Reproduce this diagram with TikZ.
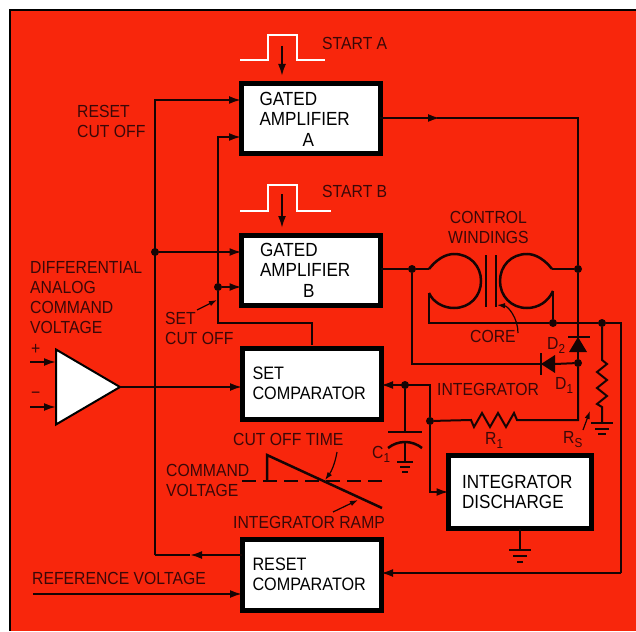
\documentclass[tikz,border=0pt]{standalone}
\usepackage{fontspec}
\setmainfont[FakeStretch=0.9]{Liberation Sans}
\usetikzlibrary{arrows.meta,positioning,calc,shapes.geometric}
\definecolor{panel}{HTML}{F8260C}
\definecolor{ink}{HTML}{3A0808}
\definecolor{wire}{HTML}{160404}
\newcommand{\lowtxt}[1]{\raisebox{-4pt}{\fontsize{13}{13}\selectfont #1}}
\tikzset{box/.style={draw=black,fill=white,line width=5pt,outer sep=0pt,inner sep=0pt,align=left,text=black,font=\fontsize{19}{20.5}\selectfont},
comp/.style={box,minimum width=139pt,minimum height=71pt,text width=118pt,font=\fontsize{18}{20.5}\selectfont},
amp/.style={box,minimum width=139pt,minimum height=70pt,text width=102pt},
lab/.style={anchor=west,inner sep=0pt,align=left,text=ink,font=\fontsize{17.5}{20}\selectfont},
wires/.style={draw=wire,line width=2pt},
arrow/.style={wires,-{Latex[length=12pt,width=8pt]}},
thin arrow/.style={wires,line width=1.2pt,-{Latex[length=8pt,width=5.5pt]}},
dot/.style={circle,fill=wire,inner sep=0pt,minimum size=8pt},
pulse/.style={draw=white,line width=2.5pt},
plate/.style={wires,line width=2.5pt}}
\begin{document}
\begin{tikzpicture}[x=1pt,y=-1pt]
\useasboundingbox (0,0) rectangle (636,631);
\fill[panel] (9,10) rectangle (636,631);
\draw[black,line width=1.5pt] (10,631)--(10,10)--(636,10);
% blocks
\node[amp] (ampa) at (310.5,119) {GATED\\AMPLIFIER\\\hspace*{43pt}A};
\node[amp] (ampb) at (311,270) {GATED\\AMPLIFIER\\\hspace*{43pt}B};
\node[comp] (setc) at (311.5,383.5) {SET\\COMPARATOR};
\node[comp] (resc) at (311.5,574.5) {RESET\\COMPARATOR};
\node[box,minimum width=143pt,minimum height=73pt,text width=116pt] (disch) at (520,492) {INTEGRATOR\\DISCHARGE};
\node[isosceles triangle,isosceles triangle stretches,shape border rotate=0,draw=black,fill=white,line width=2pt,inner sep=0pt,outer sep=0pt,minimum width=75pt,minimum height=64pt,anchor=apex] (diff) at (120,387) {};
% junctions
\node[dot] (j1) at (155,252) {};
\node[dot] (j2) at (218,287) {};
\node[dot] (j3) at (412,269) {};
\node[dot] (j4) at (578,269) {};
\node[dot] (j5) at (553,323) {};
\node[dot] (j6) at (602,323) {};
\node[dot] (j7) at (578,363) {};
\node[dot] (j8) at (405,385) {};
\node[dot] (j9) at (430,421) {};
\coordinate (ctl) at (429,269);\coordinate (cbl) at (429,293);
\coordinate (ctr) at (552,269);\coordinate (cbr) at (553,291);
\coordinate (gnd1) at (405,462);\coordinate (gnd2) at (602,423);\coordinate (gnd3) at (520,550);
% reset and set lines
\draw[wires] (190,555)--(155,555);
\draw[arrow] (155,555)--(155,100)--(ampa.west|-0,100);
\draw[arrow] (j1)--(ampb.west|-j1);
\draw[arrow] (resc.west|-0,555)--(190,555);
\draw[wires] (setc.north|-0,345)--(setc.north|-0,323)--(218,323)--(j2);
\draw[arrow] (j2)--(218,137)--(ampa.west|-0,137);
\draw[arrow] (j2)--(ampb.west|-j2);
\draw[arrow] (diff.apex)--(setc.west|-diff.apex);
\draw[arrow] (30,362)--(56,362);
\draw[arrow] (30,407)--(56,407);
\draw[arrow] (33,594)--(resc.west|-0,594);
% outputs and windings
\draw[wires] (437,118)--(578,118)--(j4)--(j7);
\draw[arrow] (ampa.east|-0,118)--(440,118);
\draw[wires] (j7)--(578,420)--(517,420)--++(-3,-7)--++(-8,14)--++(-8,-14)--++(-8,14)--++(-8,-14)--++(-8,14)--++(-3,-7)--(j9);
\draw[wires] (ampb.east|-j3)--(j3)--(ctl);
\draw[wires] (ctr)--(j4);
\draw[plate] (ctl) .. controls (436,260) and (445,254) .. (454,254) .. controls (470,254) and (481,266) .. (481,281) .. controls (481,296) and (470,308) .. (454,308) .. controls (443,308) and (433,302) .. (cbl);
\draw[plate] (ctr) .. controls (545,260) and (536,254) .. (527,254) .. controls (511,254) and (500,266) .. (500,281) .. controls (500,296) and (511,308) .. (527,308) .. controls (538,308) and (548,302) .. (cbr);
\draw[plate] (486,255)--(486,307);
\draw[plate] (496,255)--(496,307);
\draw[wires] (cbl)--(429,323)--(j5)--(j6)--(621,323)--(621,573);
\draw[wires] (cbr)--(j5);
\draw[arrow] (621,573)--(resc.east|-0,573);
% diodes
\draw[wires] (j3)--(412,364)--(541,364);
\draw[wires] (j7)--(555,364);
\fill[wire] (541,364)--(555,355)--(555,373)--cycle;
\draw[plate] (541,353)--(541,375);
\fill[wire] (578,337)--(569,352)--(587,352)--cycle;
\draw[plate] (568,337)--(590,337);
% shunt
\draw[wires] (j6)--(602,360)--++(5,4)--++(-10,8)--++(10,8)--++(-10,8)--++(10,8)--++(-10,8)--++(5,3)--(gnd2);
\draw[plate] ($(gnd2)+(-11,0)$)--($(gnd2)+(11,0)$);
\draw[wires] ($(gnd2)+(-7,6)$)--($(gnd2)+(7,6)$);
\draw[wires] ($(gnd2)+(-4,11)$)--($(gnd2)+(4,11)$);
% integrator
\draw[arrow] (j9)--(430,385)--(setc.east|-0,385);
\draw[arrow] (j9)--(430,492)--(disch.west|-0,492);
\draw[wires] (j8)--(405,432);
\draw[plate] (388,432)--(422,432);
\draw[plate] (388,448) .. controls (393,444) and (399,442) .. (405,442) .. controls (411,442) and (417,444) .. (422,448);
\draw[wires] (405,442)--(gnd1);
\draw[wires] ($(gnd1)+(-8,0)$)--($(gnd1)+(8,0)$);
\draw[wires] ($(gnd1)+(-5,5)$)--($(gnd1)+(5,5)$);
\draw[wires] ($(gnd1)+(-3,10)$)--($(gnd1)+(3,10)$);
\draw[wires] (disch.south)--(gnd3);
\draw[wires] ($(gnd3)+(-11,0)$)--($(gnd3)+(11,0)$);
\draw[wires] ($(gnd3)+(-7,6)$)--($(gnd3)+(7,6)$);
\draw[wires] ($(gnd3)+(-3,12)$)--($(gnd3)+(3,12)$);
% pulses
\draw[pulse] (240,60)--(268,60)--(268,35)--(297,35)--(297,60)--(325,60);
\draw[pulse] (240,211)--(268,211)--(268,185)--(297,185)--(297,211)--(331,211);
\draw[arrow] (282,46)--(282,76);
\draw[arrow] (282,194)--(282,228);
% ramp
\draw[wires,line width=2.5pt] (267,481)--(267,455)--(382,508);
\draw[wires,line width=1.6pt,dash pattern=on 14pt off 7pt] (242,481)--(388,481);
% labels
\node[lab] (starta) at (322,43) {START A};
\node[lab] (startb) at (322,191) {START B};
\node[lab] (rst) at (77,121.5) {RESET\\CUT OFF};
\node[lab] (cmd) at (30,298) {DIFFERENTIAL\\ANALOG\\COMMAND\\VOLTAGE};
\node[lab] (setlab) at (165,328) {SET\\CUT OFF};
\node[lab,align=center] (ctrl) at (448,227) {CONTROL\\WINDINGS};
\node[lab] (core) at (470,336) {CORE};
\node[lab] (d2) at (547,345) {D\lowtxt{2}};
\node[lab] (d1) at (555,385) {D\lowtxt{1}};
\node[lab] (intg) at (437,389) {INTEGRATOR};
\node[lab] (r1) at (485,440) {R\lowtxt{1}};
\node[lab] (rs) at (563,440) {R\lowtxt{S}};
\node[lab] (c1) at (372,454) {C\lowtxt{1}};
\node[lab] (cut) at (233,439) {CUT OFF TIME};
\node[lab] (cmdv) at (166,480.5) {COMMAND\\VOLTAGE};
\node[lab] (ramp) at (233,522) {INTEGRATOR RAMP};
\node[lab] (refv) at (32,578) {REFERENCE VOLTAGE};
\node[lab] (plus) at (31,349) {+};
\node[lab] (minus) at (31,395) {−};
% pointers
\draw[thin arrow] (197,310)--(217,300);
\draw[thin arrow] (518,333) .. controls (518,318) and (508,306) .. (497,305);
\draw[thin arrow] (583,430)--(590,411);
\draw[thin arrow] (337,452) .. controls (335,464) and (331,472) .. (325,480);
\draw[thin arrow] (333,512)--(358,500);
\end{tikzpicture}
\end{document}
